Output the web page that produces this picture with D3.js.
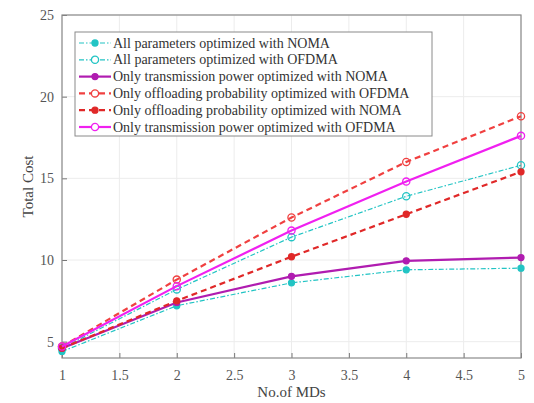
<!DOCTYPE html>
<html>
<head>
<meta charset="utf-8">
<script src="https://cdnjs.cloudflare.com/ajax/libs/d3/7.8.5/d3.min.js"></script>
<style>
  html, body { margin: 0; padding: 0; background: #fff; }
  svg { display: block; font-family: "Liberation Serif", "DejaVu Serif", serif; }
</style>
</head>
<body>
<div id="chart"></div>
<script>
// number of MDs on the x axis
const mds = [1, 2, 3, 4, 5];

// total cost per scheme
const allNoma  = [4.4, 7.2, 8.6, 9.4, 9.5];
const allOfdma = [4.6, 8.2, 11.4, 13.9, 15.8];
const tpNoma   = [4.6, 7.4, 9.0, 9.95, 10.15];
const opOfdma  = [4.7, 8.8, 12.6, 16.0, 18.8];
const opNoma   = [4.6, 7.5, 10.2, 12.8, 15.4];
const tpOfdma  = [4.7, 8.4, 11.8, 14.8, 17.6];

const seriesNames = [
  'All parameters optimized with NOMA',
  'All parameters optimized with OFDMA',
  'Only transmission power optimized with NOMA',
  'Only offloading probability optimized with OFDMA',
  'Only offloading probability optimized with NOMA',
  'Only transmission power optimized with OFDMA'
];

const xTicks = [1, 1.5, 2, 2.5, 3, 3.5, 4, 4.5, 5];
const yTicks = [5, 10, 15, 20, 25];

// styles for each series (same order as the names)
const styles = [
  {values: allNoma,  color: '#22c4c4', width: 1.2, dash: '5,2,1.5,2', filled: true},
  {values: allOfdma, color: '#22c4c4', width: 1.2, dash: '5,2,1.5,2', filled: false},
  {values: tpNoma,   color: '#b01cb0', width: 2.2, dash: null, filled: true},
  {values: opOfdma,  color: '#f04040', width: 2.2, dash: '6,4', filled: false},
  {values: opNoma,   color: '#e02828', width: 2.2, dash: '6,4', filled: true},
  {values: tpOfdma,  color: '#f020f0', width: 2.2, dash: null, filled: false}
];

const W = 534, H = 403;
const margin = {left: 62, right: 13, top: 15, bottom: 45};
const width = W - margin.left - margin.right,
  height = H - margin.top - margin.bottom;

const x = d3.scaleLinear().domain([1, 5]).range([0, width]);
const y = d3.scaleLinear().domain([4, 25]).range([height, 0]);

const svg = d3.select('#chart').append('svg')
  .attr('width', W)
  .attr('height', H);

const g = svg.append('g')
  .attr('transform', 'translate(' + margin.left + ',' + margin.top + ')');

// grid
g.append('g').selectAll('line').data(xTicks).join('line')
  .attr('x1', d => x(d)).attr('x2', d => x(d))
  .attr('y1', 0).attr('y2', height)
  .attr('stroke', '#ececec').attr('stroke-width', 1);
g.append('g').selectAll('line').data(yTicks).join('line')
  .attr('x1', 0).attr('x2', width)
  .attr('y1', d => y(d)).attr('y2', d => y(d))
  .attr('stroke', '#ececec').attr('stroke-width', 1);

// axes (ticks inward, matlab-ish)
const xAxis = d3.axisBottom(x).tickValues(xTicks).tickSize(-5).tickPadding(12)
  .tickFormat(d3.format('~g'));
const yAxis = d3.axisLeft(y).tickValues(yTicks).tickSize(-5).tickPadding(8);

const gX = g.append('g')
  .attr('transform', 'translate(0,' + height + ')')
  .call(xAxis);
const gY = g.append('g').call(yAxis);

[gX, gY].forEach(a => {
  a.select('.domain').remove();
  a.selectAll('.tick line').attr('stroke', '#777');
  a.selectAll('.tick text').attr('fill', '#555').style('font-size', '14px')
    .style('font-family', '"Liberation Serif", serif');
});

// box
g.append('rect')
  .attr('width', width).attr('height', height)
  .attr('fill', 'none').attr('stroke', '#8a8a8a').attr('stroke-width', 1.2);

// axis labels
svg.append('text')
  .attr('x', margin.left + width / 2).attr('y', 397)
  .attr('text-anchor', 'middle').attr('fill', '#444')
  .style('font-size', '15px')
  .text('No.of MDs');
svg.append('text')
  .attr('transform', 'translate(33,' + (margin.top + height / 2) + ') rotate(-90)')
  .attr('text-anchor', 'middle').attr('fill', '#444')
  .style('font-size', '15px')
  .text('Total Cost');

// lines
const line = d3.line()
  .x(d => x(d[0]))
  .y(d => y(d[1]));

styles.forEach(s => {
  const pts = mds.map((m, i) => [m, s.values[i]]);
  g.append('path')
    .attr('d', line(pts))
    .attr('fill', 'none')
    .attr('stroke', s.color)
    .attr('stroke-width', s.width)
    .attr('stroke-dasharray', s.dash);
  g.append('g').selectAll('circle').data(pts).join('circle')
    .attr('cx', d => x(d[0])).attr('cy', d => y(d[1]))
    .attr('r', s.filled ? 3 : 3.6)
    .attr('fill', s.filled ? s.color : 'none')
    .attr('stroke', s.color)
    .attr('stroke-width', 1.3);
});

// legend
const leg = svg.append('g').attr('transform', 'translate(75,32)');
leg.append('rect')
  .attr('width', 357).attr('height', 104)
  .attr('fill', '#fff').attr('stroke', '#8a8a8a').attr('stroke-width', 1);

styles.forEach((s, i) => {
  const row = leg.append('g').attr('transform', 'translate(0,' + (11 + i * 16.8) + ')');
  row.append('line')
    .attr('x1', 4).attr('x2', 36)
    .attr('stroke', s.color).attr('stroke-width', s.width)
    .attr('stroke-dasharray', s.dash);
  row.append('circle')
    .attr('cx', 20).attr('r', s.filled ? 3 : 3.6)
    .attr('fill', s.filled ? s.color : '#fff')
    .attr('stroke', s.color).attr('stroke-width', 1.3);
  row.append('text')
    .attr('x', 38).attr('y', 4.5)
    .attr('fill', '#333')
    .style('font-size', '14px')
    .text(seriesNames[i]);
});
</script>
</body>
</html>
